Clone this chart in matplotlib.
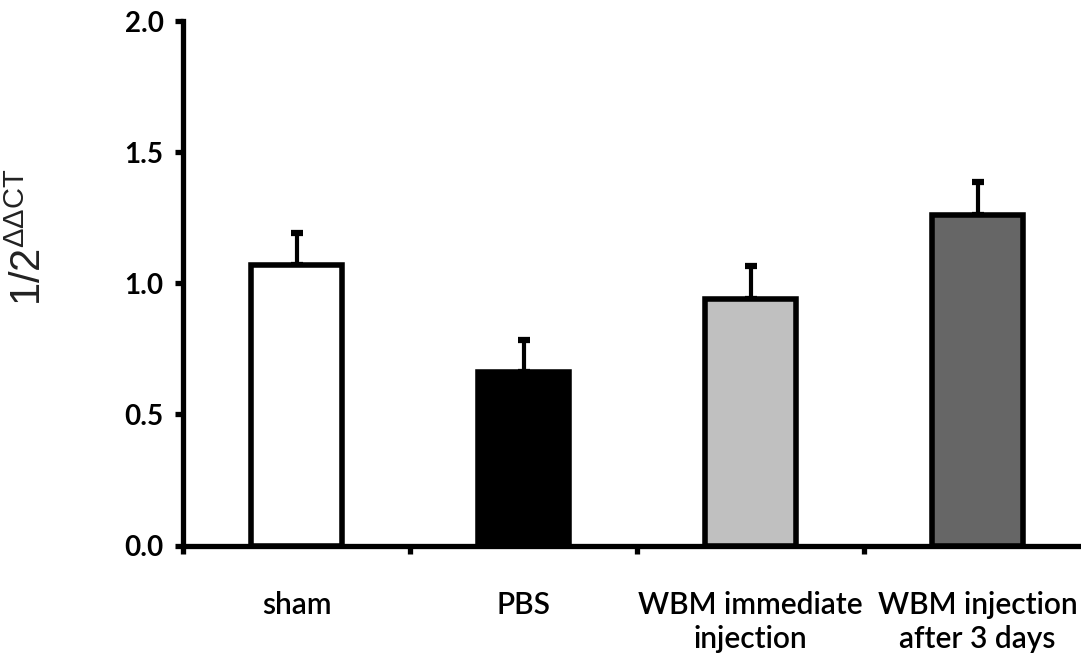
import matplotlib
matplotlib.use('Agg')
import matplotlib.pyplot as plt

# values
groups = ['sham', 'PBS', 'WBM immediate\ninjection', 'WBM injection\nafter 3 days']
means = [1.07, 0.662, 0.94, 1.26]
errs = [0.122, 0.122, 0.127, 0.127]
colors = ['white', 'black', '#c0c0c0', '#666666']

fig = plt.figure(figsize=(10.81, 6.58), dpi=100)
# axes extends a bit past the right figure edge, like the original
ax = fig.add_axes([183/1081, 112.5/658, 908/1081, 524.5/658])

x = range(len(groups))
ax.bar(x, means, width=0.40, color=colors, edgecolor='black', linewidth=4,
       zorder=3)
ax.errorbar(x, means, yerr=[[0]*len(errs), errs], fmt='none', ecolor='black',
            elinewidth=3, capsize=4.5, capthick=4.5, zorder=2)

ax.set_xlim(-0.5, 3.5)
ax.set_ylim(0, 2.0)

for s in ['top', 'right']:
    ax.spines[s].set_visible(False)
for s in ['left', 'bottom']:
    ax.spines[s].set_linewidth(3.8)
ax.spines['bottom'].set_capstyle('butt')

ax.set_yticks([0, 0.5, 1.0, 1.5, 2.0])
ax.set_yticklabels(['0.0', '0.5', '1.0', '1.5', '2.0'], fontsize=20,
                   fontweight='bold', family='Lato')
ax.tick_params(axis='y', direction='out', length=6, width=3.8, pad=8)

# major ticks between the groups, labels on minor ticks
ax.set_xticks([-0.5, 0.5, 1.5, 2.5, 3.5])
ax.set_xticklabels([])
ax.tick_params(axis='x', which='major', direction='out', length=6, width=3.8)
ax.set_xticks(list(x), minor=True)
ax.set_xticklabels(groups, minor=True, fontsize=21.5, family='Lato',
                   fontweight='semibold', linespacing=1.25, va='top')
ax.tick_params(axis='x', which='minor', length=0, pad=33)

fig.text(30/1081, (658-237)/658, r'1/2$^{\mathregular{ΔΔCT}}$', rotation=90,
         ha='center', va='center', fontsize=30,
         family=['Liberation Sans Narrow', 'Liberation Sans'],
         color='#222222')

fig.savefig('out.png', dpi=100)
